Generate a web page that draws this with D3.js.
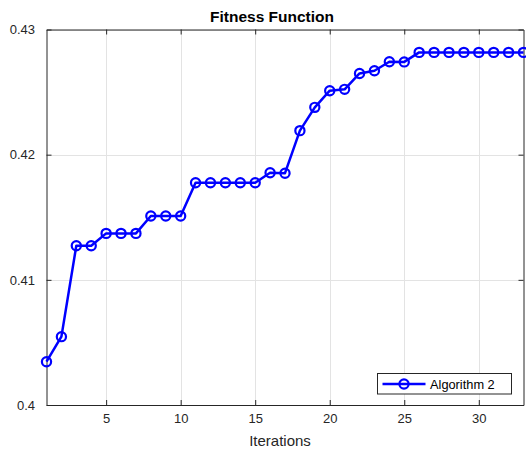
<!DOCTYPE html>
<html lang="en">
<head>
<meta charset="UTF-8">
<title>Fitness Function</title>
<script src="https://cdn.jsdelivr.net/npm/d3@7"></script>
<style>
  body { margin: 0; background: #fff; }
  svg { display: block; font-family: "Liberation Sans", Arial, sans-serif; }
</style>
</head>
<body>
<script>
// data
const iterations = d3.range(1, 34);
const fitness = [
  0.40346, 0.40546, 0.41272, 0.41272, 0.41371, 0.41371, 0.41371,
  0.41510, 0.41510, 0.41510, 0.41776, 0.41776, 0.41776, 0.41776,
  0.41776, 0.41855, 0.41852, 0.42192, 0.42378, 0.42511, 0.42522,
  0.42649, 0.42670, 0.42742, 0.42741, 0.42817, 0.42817, 0.42817,
  0.42817, 0.42817, 0.42817, 0.42817, 0.42817
];
const xTicks = [5, 10, 15, 20, 25, 30];
const yTicks = [0.40, 0.41, 0.42, 0.43];
const seriesName = "Algorithm 2";

const W = 526, H = 451;
const m = {left: 46.5, right: 2.5, top: 29.5, bottom: 46};

const svg = d3.select("body").append("svg")
    .attr("width", W).attr("height", H);

const x = d3.scaleLinear().domain([1, 33]).range([m.left, W - m.right]);
const y = d3.scaleLinear().domain([0.40, 0.43]).range([H - m.bottom, m.top]);

// grid
const grid = svg.append("g").attr("stroke", "#e3e3e3").attr("stroke-width", 1);
grid.selectAll(".gx").data(xTicks).enter().append("line")
    .attr("x1", d => Math.round(x(d)) + 0.5).attr("x2", d => Math.round(x(d)) + 0.5)
    .attr("y1", y.range()[0]).attr("y2", y.range()[1]);
grid.selectAll(".gy").data(yTicks).enter().append("line")
    .attr("y1", d => Math.round(y(d)) + 0.5).attr("y2", d => Math.round(y(d)) + 0.5)
    .attr("x1", x.range()[0]).attr("x2", x.range()[1]);

// axes (MATLAB style: ticks inward, box)
const axisCol = "#262626";
const xb = svg.append("g").attr("transform", `translate(0,${y.range()[0]})`)
    .call(d3.axisBottom(x).tickValues(xTicks).tickSizeInner(-5).tickSizeOuter(0).tickPadding(9));
const xt = svg.append("g").attr("transform", `translate(0,${y.range()[1]})`)
    .call(d3.axisTop(x).tickValues(xTicks).tickSizeInner(-5).tickSizeOuter(0).tickFormat(""));
const yl = svg.append("g").attr("transform", `translate(${x.range()[0]},0)`)
    .call(d3.axisLeft(y).tickValues(yTicks).tickSizeInner(-5).tickSizeOuter(0)
      .tickPadding(11.5).tickFormat(d => d === 0.4 ? "0.4" : d3.format(".2f")(d)));
const yr = svg.append("g").attr("transform", `translate(${x.range()[1]},0)`)
    .call(d3.axisRight(y).tickValues(yTicks).tickSizeInner(-5).tickSizeOuter(0).tickFormat(""));

[xb, xt, yl, yr].forEach(g => {
  g.select(".domain").attr("stroke", axisCol).attr("stroke-width", 1);
  g.selectAll(".tick line").attr("stroke", axisCol);
  g.selectAll(".tick text").attr("fill", axisCol).attr("font-size", 13)
    .attr("font-family", "Liberation Sans, Arial, sans-serif");
});

// series
const pts = iterations.map((it, i) => [it, fitness[i]]);
svg.append("path").datum(pts)
    .attr("fill", "none").attr("stroke", "#0000ff").attr("stroke-width", 2.5)
    .attr("stroke-linejoin", "round")
    .attr("d", d3.line().x(d => x(d[0])).y(d => y(d[1])));
svg.append("g").selectAll("circle").data(pts).enter().append("circle")
    .attr("cx", d => x(d[0])).attr("cy", d => y(d[1])).attr("r", 4.6)
    .attr("fill", "none").attr("stroke", "#0000ff").attr("stroke-width", 2.2);

// title + x label
svg.append("text").attr("x", 272).attr("y", 21.5).attr("text-anchor", "middle")
    .attr("font-size", 15.5).attr("font-weight", "bold").attr("fill", "#000")
    .text("Fitness Function");
svg.append("text").attr("x", 280).attr("y", 446)
    .attr("text-anchor", "middle").attr("font-size", 15).attr("fill", axisCol)
    .text("Iterations");

// legend
const lg = svg.append("g").attr("transform", "translate(377.5,373.5)");
lg.append("rect").attr("width", 134).attr("height", 20.5)
    .attr("fill", "#fff").attr("stroke", axisCol).attr("stroke-width", 1);
lg.append("line").attr("x1", 5).attr("x2", 48).attr("y1", 10.5).attr("y2", 10.5)
    .attr("stroke", "#0000ff").attr("stroke-width", 2.5);
lg.append("circle").attr("cx", 26.5).attr("cy", 10.5).attr("r", 4.6)
    .attr("fill", "none").attr("stroke", "#0000ff").attr("stroke-width", 2.2);
lg.append("text").attr("x", 52.5).attr("y", 15).attr("font-size", 12.8).attr("fill", "#000")
    .text(seriesName);
</script>
</body>
</html>
